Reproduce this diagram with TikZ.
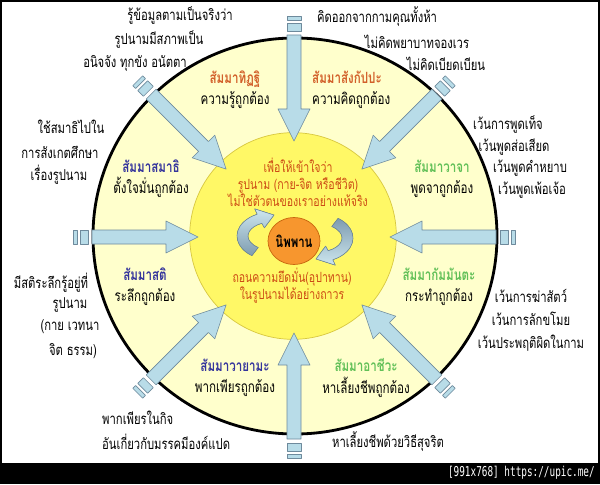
\documentclass[tikz,border=0pt]{standalone}
\usepackage{fontspec}
\usetikzlibrary{shapes.geometric}
\newfontfamily\thaifont[Script=Thai, FakeStretch=0.75]{Loma}
\newfontfamily\bannerfont{DejaVu Sans Mono}
\definecolor{ringfill}{HTML}{FFFFCC}
\definecolor{corefill}{HTML}{FFF866}
\definecolor{coreline}{HTML}{D8C840}
\definecolor{nibfill}{HTML}{F7962E}
\definecolor{nibline}{HTML}{C8660E}
\definecolor{arrowblue}{HTML}{B8DCE8}
\definecolor{arrowdark}{HTML}{7E9CB0}
\definecolor{arrowline}{HTML}{6E8A9C}
\definecolor{titleorange}{HTML}{D2602A}
\definecolor{titlegreen}{HTML}{62C058}
\definecolor{titleblue}{HTML}{34349C}
\definecolor{coretext}{HTML}{CC4A14}

\tikzset{
  note/.style={font=\thaifont\fontsize{12.8}{19.5}\selectfont, inner sep=0pt},
  ringlabel/.style={font=\thaifont\fontsize{13.2}{18}\selectfont, inner sep=0pt, align=center},
  coretxt/.style={font=\thaifont\fontsize{12}{14.5}\selectfont, inner sep=0pt, align=center, text=coretext},
  blockarrow/.style={fill=arrowblue, draw=arrowline, line width=0.5pt, line join=round},
  curlarrow/.style={draw=arrowline, line width=0.5pt, line join=round}
}

\begin{document}
\begin{tikzpicture}[x=0.03cm, y=-0.03cm]
  \useasboundingbox (0,0) rectangle (600,484);
  \fill[black] (0,0) rectangle (600,484);
  \fill[white] (2,2) rectangle (598,463);

  % rings
  \node[ellipse, draw=black, line width=2.4pt, fill=ringfill, minimum width=12.12cm, minimum height=11.88cm] (ring) at (295,236) {};
  \node[circle, draw=coreline, line width=0.6pt, fill=corefill, minimum size=6.2cm] (core) at (293,236) {};
  \coordinate (ctr) at (294,237);

  % eight block arrows pointing in
  \foreach \ang in {0,45,...,315}{
    \begin{scope}[shift={(ctr)}, rotate=\ang]
      \filldraw[blockarrow] (96,0) -- (128,16) -- (128,7) -- (202,7) -- (202,-7) -- (128,-7) -- (128,-16) -- cycle;
      \filldraw[blockarrow] (206,-7) rectangle (214,7);
      \filldraw[blockarrow] (217,-7) rectangle (221,7);
    \end{scope}
  }

  % turning arrows round nibbana
  \begin{scope}[shift={(272,236)}]
    \filldraw[curlarrow, top color=arrowblue!70, bottom color=arrowdark]
      (125:35 and 24) arc[start angle=125, end angle=245, x radius=35, y radius=24]
      -- (245:41 and 30) -- (2,-21) -- (245:18 and 9) -- (245:24 and 14)
      arc[start angle=245, end angle=125, x radius=24, y radius=14] -- cycle;
  \end{scope}
  \begin{scope}[shift={(318,238)}]
    \filldraw[curlarrow, top color=arrowdark, bottom color=arrowblue!70]
      (305:35 and 24) arc[start angle=305, end angle=425, x radius=35, y radius=24]
      -- (425:41 and 30) -- (-2,21) -- (425:18 and 9) -- (425:24 and 14)
      arc[start angle=425, end angle=305, x radius=24, y radius=14] -- cycle;
  \end{scope}

  \coordinate (nibc) at (294,241);
  \filldraw[draw=nibline, line width=0.6pt, fill=nibfill] (nibc) ellipse[x radius=26, y radius=23.5];
  \node[inner sep=0pt, font=\thaifont\bfseries\fontsize{13}{15}\selectfont] (nibbana) at (nibc) {นิพพาน};

  % centre text
  \node[coretxt] (insight) at (298,182) {เพื่อให้เข้าใจว่า\\รูปนาม (กาย-จิต หรือชีวิต)\\ไม่ใช่ตัวตนของเราอย่างแท้จริง};
  \node[coretxt] (release) at (292,286) {ถอนความยึดมั่น(อุปาทาน)\\ในรูปนามได้อย่างถาวร};

  % the eight path factors
  \node[ringlabel] (ditthi) at (235,90) {{\color{titleorange}\bfseries สัมมาทิฏฐิ}\\ความรู้ถูกต้อง};
  \node[ringlabel, align=left, anchor=west] (sankappa) at (312,90) {{\color{titleorange}\bfseries สัมมาสังกัปปะ}\\ความคิดถูกต้อง};
  \node[ringlabel] (vaca) at (442,179) {{\color{titlegreen}\bfseries สัมมาวาจา}\\พูดจาถูกต้อง};
  \node[ringlabel] (kammanta) at (439,287) {{\color{titlegreen}\bfseries สัมมากัมมันตะ}\\กระทำถูกต้อง};
  \node[ringlabel] (ajiva) at (366,378) {{\color{titlegreen}\bfseries สัมมาอาชีวะ}\\หาเลี้ยงชีพถูกต้อง};
  \node[ringlabel] (vayama) at (235,378) {{\color{titleblue}\bfseries สัมมาวายามะ}\\พากเพียรถูกต้อง};
  \node[ringlabel] (sati) at (145,287) {{\color{titleblue}\bfseries สัมมาสติ}\\ระลึกถูกต้อง};
  \node[ringlabel] (samadhi) at (151,179) {{\color{titleblue}\bfseries สัมมาสมาธิ}\\ตั้งใจมั่นถูกต้อง};

  % outside notes
  \node[note] (ditthiA) at (180,16) {รู้ข้อมูลตามเป็นจริงว่า};
  \node[note] (ditthiB) at (159,40) {รูปนามมีสภาพเป็น};
  \node[note] (ditthiC) at (135,63) {อนิจจัง ทุกขัง อนัตตา};
  \node[note] (sankappaA) at (377,17) {คิดออกจากกามคุณทั้งห้า};
  \node[note] (sankappaB) at (417,42) {ไม่คิดพยาบาทจองเวร};
  \node[note] (sankappaC) at (446,64) {ไม่คิดเบียดเบียน};
  \node[note] (vacaA) at (508,125) {เว้นการพูดเท็จ};
  \node[note] (vacaB) at (514,147) {เว้นพูดส่อเสียด};
  \node[note] (vacaC) at (530,168) {เว้นพูดคำหยาบ};
  \node[note] (vacaD) at (532,190) {เว้นพูดเพ้อเจ้อ};
  \node[note, align=center] (kammantaOut) at (531,320) {เว้นการฆ่าสัตว์\\เว้นการลักขโมย\\เว้นประพฤติผิดในกาม};
  \node[note] (ajivaOut) at (388,442) {หาเลี้ยงชีพด้วยวิธีสุจริต};
  \node[note, anchor=west] (vayamaA) at (102,418) {พากเพียรในกิจ};
  \node[note, anchor=west] (vayamaB) at (102,442) {อันเกี่ยวกับมรรคมีองค์แปด};
  \node[note] (satiA) at (51,283) {มีสติระลึกรู้อยู่ที่};
  \node[note] (satiB) at (70,305) {รูปนาม};
  \node[note] (satiC) at (70,327) {(กาย เวทนา};
  \node[note] (satiD) at (73,351) {จิต ธรรม)};
  \node[note] (samadhiA) at (71,127) {ใช้สมาธิไปใน};
  \node[note] (samadhiB) at (60,152) {การสังเกตศึกษา};
  \node[note] (samadhiC) at (59,175) {เรื่องรูปนาม};

  % banner strip
  \node[anchor=east, text=white, inner sep=0pt, font=\bannerfont\fontsize{8}{10}\selectfont] (banner) at (595,473) {\scalebox{1}[1.45]{[991x768] https://upic.me/}};
\end{tikzpicture}
\end{document}
